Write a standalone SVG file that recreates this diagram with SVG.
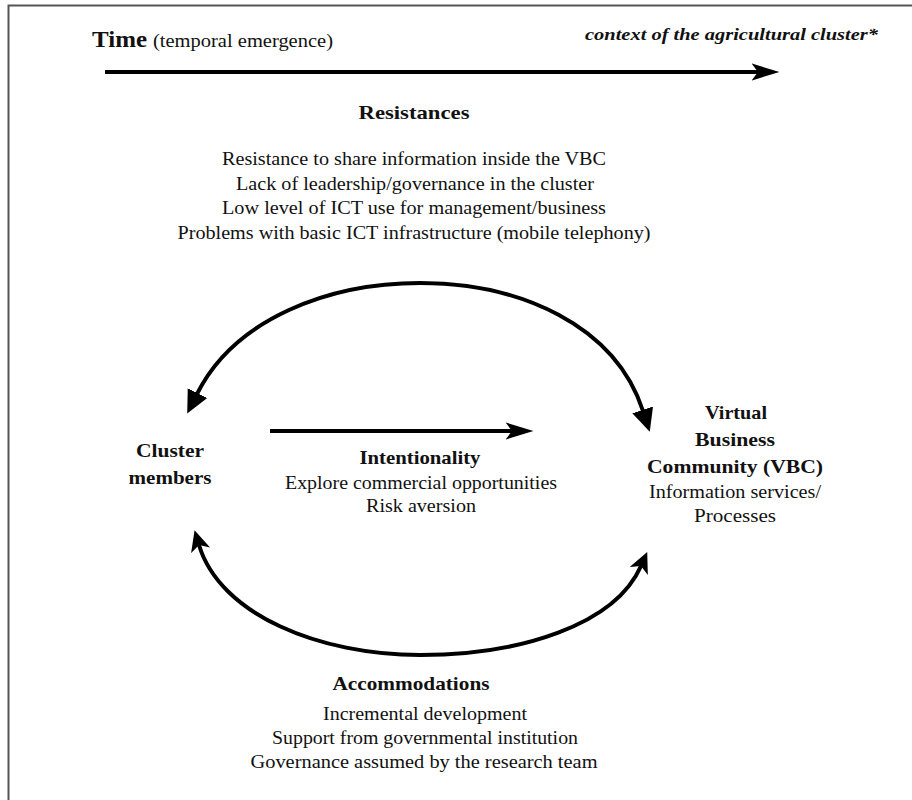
<svg xmlns="http://www.w3.org/2000/svg" width="912" height="800" viewBox="0 0 912 800">
<style>
text{font-family:"Liberation Serif","Times New Roman",serif;fill:#111;text-anchor:middle}
.b{font-weight:bold;font-size:19px}
.n{font-size:18px}
.c{fill:none;stroke:#000;stroke-width:4}
</style>
<defs>
<marker id="tri" markerUnits="userSpaceOnUse" markerWidth="24" markerHeight="24" viewBox="0 -11 22 22" refX="1" refY="0" orient="auto-start-reverse"><path d="M0,-10 L21,0 L0,10 z" fill="#000"/></marker>
<marker id="barb" markerUnits="userSpaceOnUse" markerWidth="22" markerHeight="22" viewBox="0 -10 20 20" refX="5" refY="0" orient="auto-start-reverse"><path d="M19,0 L0,-9 L5,0 L0,9 z" fill="#000"/></marker>
<marker id="barbs" markerUnits="userSpaceOnUse" markerWidth="30" markerHeight="22" viewBox="0 -10 28 20" refX="6" refY="0" orient="auto"><path d="M26,0 L0,-8 L6,0 L0,8 z" fill="#000"/></marker>
</defs>
<rect x="8.5" y="5.5" width="920" height="820" fill="#fff" stroke="#555" stroke-width="2"/>
<g id="time">
<text x="92" y="47" style="text-anchor:start;font-weight:bold;font-size:23px" textLength="55" lengthAdjust="spacingAndGlyphs">Time</text>
<text x="153" y="47" style="text-anchor:start;font-size:18px" textLength="180" lengthAdjust="spacingAndGlyphs">(temporal emergence)</text>
<text x="878" y="40" style="text-anchor:end;font-weight:bold;font-style:italic;font-size:17px" textLength="293" lengthAdjust="spacingAndGlyphs">context of the agricultural cluster*</text>
</g>
<g id="connectors">
<line x1="105" y1="72" x2="758" y2="72" class="c" marker-end="url(#barbs)"/>
<line x1="270" y1="431" x2="512" y2="431" class="c" stroke-width="3.5" marker-end="url(#barbs)"/>
<path d="M 197 394 C 235 318, 330 283, 420 283 C 520 283, 615 325, 643 411" class="c" marker-start="url(#tri)" marker-end="url(#tri)"/>
<path d="M 199 545 C 220 615, 320 655, 420 655 C 520 655, 615 625, 641 566" class="c" stroke-width="3.5" marker-start="url(#barb)" marker-end="url(#barb)"/>
</g>
<g id="resistances">
<text x="414" y="119" class="b" textLength="111" lengthAdjust="spacingAndGlyphs">Resistances</text>
<text x="414" y="165" class="n" textLength="384" lengthAdjust="spacingAndGlyphs">Resistance to share information inside the VBC</text>
<text x="415" y="190" class="n" textLength="358" lengthAdjust="spacingAndGlyphs">Lack of leadership/governance in the cluster</text>
<text x="414" y="214" class="n" textLength="384" lengthAdjust="spacingAndGlyphs">Low level of ICT use for management/business</text>
<text x="414" y="239" class="n" textLength="473" lengthAdjust="spacingAndGlyphs">Problems with basic ICT infrastructure (mobile telephony)</text>
</g>
<g id="cluster">
<text x="170" y="457" class="b" textLength="68" lengthAdjust="spacingAndGlyphs">Cluster</text>
<text x="170" y="484" class="b" textLength="83" lengthAdjust="spacingAndGlyphs">members</text>
</g>
<g id="intentionality">
<text x="420" y="464" class="b" textLength="121" lengthAdjust="spacingAndGlyphs">Intentionality</text>
<text x="421" y="489" class="n" textLength="272" lengthAdjust="spacingAndGlyphs">Explore commercial opportunities</text>
<text x="421" y="512" class="n" textLength="110" lengthAdjust="spacingAndGlyphs">Risk aversion</text>
</g>
<g id="vbc">
<text x="736" y="419" class="b" textLength="62" lengthAdjust="spacingAndGlyphs">Virtual</text>
<text x="735" y="446" class="b" textLength="80" lengthAdjust="spacingAndGlyphs">Business</text>
<text x="735" y="473" class="b" textLength="176" lengthAdjust="spacingAndGlyphs">Community  (VBC)</text>
<text x="735" y="498" class="n" textLength="172" lengthAdjust="spacingAndGlyphs">Information services/</text>
<text x="735" y="522" class="n" textLength="82" lengthAdjust="spacingAndGlyphs">Processes</text>
</g>
<g id="accommodations">
<text x="411" y="690" class="b" textLength="157" lengthAdjust="spacingAndGlyphs">Accommodations</text>
<text x="425" y="720" class="n" textLength="204" lengthAdjust="spacingAndGlyphs">Incremental development</text>
<text x="425" y="744" class="n" textLength="306" lengthAdjust="spacingAndGlyphs">Support from governmental institution</text>
<text x="424" y="768" class="n" textLength="347" lengthAdjust="spacingAndGlyphs">Governance assumed by the research team</text>
</g>
</svg>
